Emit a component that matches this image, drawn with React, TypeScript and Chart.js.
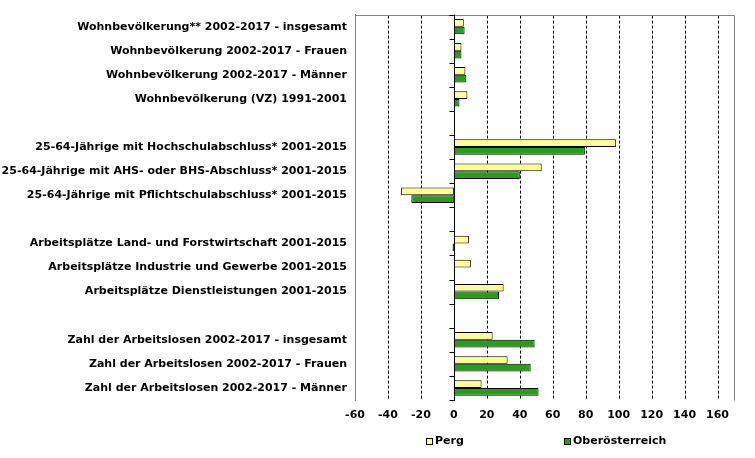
import React, { useEffect, useRef } from "react";
import { Chart, registerables } from "chart.js";

Chart.register(...registerables);

const categories: string[] = [
  "Wohnbevölkerung** 2002-2017 - insgesamt",
  "Wohnbevölkerung 2002-2017 - Frauen",
  "Wohnbevölkerung 2002-2017 - Männer",
  "Wohnbevölkerung (VZ) 1991-2001",
  "",
  "25-64-Jährige mit Hochschulabschluss* 2001-2015",
  "25-64-Jährige mit AHS- oder BHS-Abschluss* 2001-2015",
  "25-64-Jährige mit Pflichtschulabschluss* 2001-2015",
  "",
  "Arbeitsplätze Land- und Forstwirtschaft 2001-2015",
  "Arbeitsplätze Industrie und Gewerbe 2001-2015",
  "Arbeitsplätze Dienstleistungen 2001-2015",
  "",
  "Zahl der Arbeitslosen 2002-2017 - insgesamt",
  "Zahl der Arbeitslosen 2002-2017 - Frauen",
  "Zahl der Arbeitslosen 2002-2017 - Männer",
];

const perg: (number | null)[] = [
  6.0, 4.6, 7.0, 8.2, null, 98.5, 53.3, -32.0, null, 9.1, 10.3, 30.2, null, 23.5, 32.6, 16.8,
];
const oberoesterreich: (number | null)[] = [
  6.5, 4.6, 7.6, 3.4, null, 79.5, 40.0, -25.8, null, -0.8, 0.6, 27.4, null, 49.0, 46.6, 51.4,
];

const seriesNames = ["Perg", "Oberösterreich"];
const seriesColors = ["#FFFF99", "#2C9A1C"];

const xMin = -60;
const xMax = 170;
const xStep = 20;

const FONT_FAMILY = "'DejaVu Sans', Verdana, sans-serif";

export default function App() {
  const canvasRef = useRef<HTMLCanvasElement | null>(null);

  useEffect(() => {
    document.body.style.margin = "0";
    const canvas = canvasRef.current;
    if (!canvas) return;

    const framePlugin = {
      id: "frameAndZero",
      beforeDatasetsDraw(chart: any) {
        const { ctx, chartArea, scales } = chart;
        const xs = scales.x;
        ctx.save();
        ctx.strokeStyle = "#000000";
        ctx.lineWidth = 1;
        ctx.setLineDash([3, 2]);
        ctx.beginPath();
        for (const t of xs.ticks) {
          if (t.value === 0 || t.value === xMin || t.value >= xMax) continue;
          const x = Math.round(xs.getPixelForValue(t.value)) + 0.5;
          ctx.moveTo(x, chartArea.top + 1);
          ctx.lineTo(x, chartArea.bottom);
        }
        ctx.stroke();
        ctx.restore();
      },
      afterDatasetsDraw(chart: any) {
        const { ctx, chartArea, scales } = chart;
        const xs = scales.x;
        const x0 = Math.round(xs.getPixelForValue(0)) + 0.5;
        ctx.save();
        ctx.strokeStyle = "#808080";
        ctx.lineWidth = 1;
        ctx.beginPath();
        ctx.moveTo(Math.round(chartArea.left) + 0.5, Math.round(chartArea.top) + 0.5);
        ctx.lineTo(Math.round(chartArea.right) + 0.5, Math.round(chartArea.top) + 0.5);
        ctx.lineTo(Math.round(chartArea.right) + 0.5, Math.round(chartArea.bottom) + 0.5);
        ctx.stroke();
        ctx.strokeStyle = "#000000";
        ctx.beginPath();
        ctx.moveTo(x0, chartArea.top);
        ctx.lineTo(x0, chartArea.bottom + 1);
        const n = categories.length;
        const h = (chartArea.bottom - chartArea.top) / n;
        for (let i = 0; i <= n; i++) {
          const y = Math.round(chartArea.top + i * h) + 0.5;
          ctx.moveTo(x0 - 5, y);
          ctx.lineTo(x0, y);
        }
        ctx.stroke();
        ctx.restore();
      },
      afterDraw(chart: any) {
        const { ctx, chartArea } = chart;
        const items = [
          { name: seriesNames[0], color: seriesColors[0], dx: 71 },
          { name: seriesNames[1], color: seriesColors[1], dx: 209 },
        ];
        const y = 441;
        ctx.save();
        ctx.font = `bold 11px ${FONT_FAMILY}`;
        ctx.textBaseline = "middle";
        ctx.textAlign = "left";
        for (const it of items) {
          const bx = Math.round(chartArea.left + it.dx);
          ctx.fillStyle = it.color;
          ctx.fillRect(bx, y - 3, 6, 6);
          ctx.strokeStyle = "#000";
          ctx.lineWidth = 1;
          ctx.strokeRect(bx + 0.5, y - 3 + 0.5, 6, 6);
          ctx.fillStyle = "#000";
          ctx.fillText(it.name, bx + 9, y);
        }
        ctx.restore();
      },
    };

    const chart = new Chart(canvas, {
      type: "bar",
      data: {
        labels: categories,
        datasets: seriesNames.map((name, i) => ({
          label: name,
          data: i === 0 ? perg : oberoesterreich,
          backgroundColor: seriesColors[i],
          borderColor: "#000000",
          borderWidth: 1,
          borderSkipped: false,
          categoryPercentage: 0.64,
          barPercentage: 1.0,
        })),
      },
      options: {
        indexAxis: "y",
        animation: false,
        responsive: false,
        maintainAspectRatio: false,
        layout: { padding: { top: 12, right: 21, left: 0, bottom: 0 } },
        plugins: {
          legend: { display: false },
          tooltip: { enabled: false },
        },
        scales: {
          x: {
            type: "linear",
            min: xMin,
            max: xMax,
            ticks: {
              stepSize: xStep,
              includeBounds: false,
              color: "#000",
              padding: 9,
              font: { family: FONT_FAMILY, size: 11, weight: "bold" },
            },
            grid: { display: false, drawTicks: false },
            border: { display: false },
            afterFit: (s: any) => {
              s.height = 58;
            },
          },
          y: {
            type: "category",
            ticks: {
              color: "#000",
              padding: 8,
              autoSkip: false,
              font: { family: FONT_FAMILY, size: 11, weight: "bold" },
            },
            grid: { display: false, drawTicks: false },
            border: { display: true, color: "#808080", width: 1 },
            afterFit: (s: any) => {
              s.width = 355;
            },
          },
        },
      } as any,
      plugins: [framePlugin],
    });

    return () => chart.destroy();
  }, []);

  return (
    <div style={{ position: "fixed", left: 0, top: 0, width: 755, height: 458, background: "#fff" }}>
      <canvas ref={canvasRef} width={755} height={458} style={{ width: 755, height: 458, display: "block" }} />
    </div>
  );
}
